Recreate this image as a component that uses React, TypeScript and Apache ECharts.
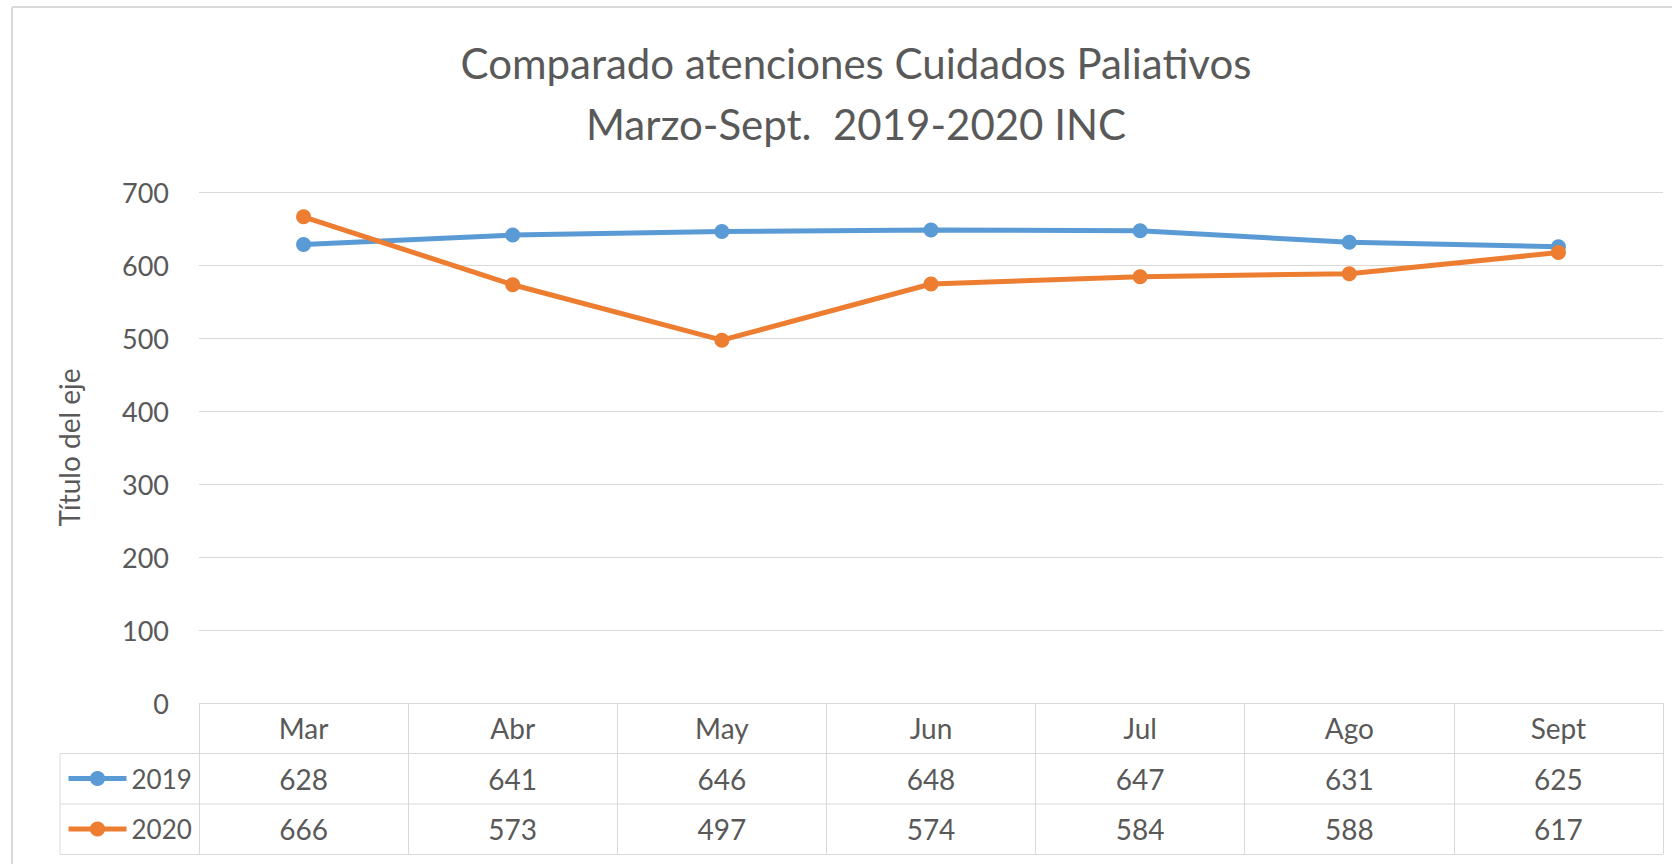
import React, { useEffect, useRef } from "react";
import * as echarts from "echarts";

const months = ["Mar", "Abr", "May", "Jun", "Jul", "Ago", "Sept"];
const s2019 = [628, 641, 646, 648, 647, 631, 625];
const s2020 = [666, 573, 497, 574, 584, 588, 617];
const seriesNames = ["2019", "2020"];
const yTicks = { min: 0, max: 700, interval: 100 };
const titleText = "Comparado atenciones Cuidados Paliativos\nMarzo-Sept.  2019-2020 INC";
const yAxisTitle = "Título del eje";

const FONT = "Lato";
const TXT = "#595959";
const GRIDC = "#d9d9d9";
const BLUE = "#5b9bd5";
const ORANGE = "#ed7d31";

export default function App() {
  const ref = useRef<HTMLDivElement>(null);
  useEffect(() => {
    if (!ref.current) return;
    const chart = echarts.init(ref.current, undefined, { renderer: "svg" });
    const gl = 199, gr = 1663, gTop = 192, gBottom = 703;
    const rowH = 50.5;
    const tableLeft = 60;
    const lineStyle = { stroke: GRIDC, lineWidth: 1 };
    const tableFont = 28;
    const legendFont = 26;
    chart.setOption({
      animation: false,
      backgroundColor: "#fff",
      textStyle: { fontFamily: FONT },
      title: {
        text: titleText,
        left: 851,
        top: 27,
        textAlign: "center",
        textStyle: { fontFamily: FONT, fontSize: 42, fontWeight: "normal", color: TXT, lineHeight: 61 },
      },
      grid: { left: gl, right: 1672 - gr, top: gTop, bottom: 864 - gBottom },
      legend: [
        {
          data: [seriesNames[0]], left: 66, top: 765.5, padding: 0, itemWidth: 58, itemHeight: 19,
          lineStyle: { width: 5 },
          textStyle: { fontFamily: FONT, fontSize: legendFont, color: TXT }, selectedMode: false,
        },
        {
          data: [seriesNames[1]], left: 66, top: 816, padding: 0, itemWidth: 58, itemHeight: 19,
          lineStyle: { width: 5 },
          textStyle: { fontFamily: FONT, fontSize: legendFont, color: TXT }, selectedMode: false,
        },
      ],
      xAxis: [
        {
          type: "category", data: months, boundaryGap: true,
          axisLine: { show: true, lineStyle: { color: GRIDC, width: 1 } },
          axisTick: { show: true, length: 151, interval: 0, lineStyle: { color: GRIDC, width: 1 } },
          axisLabel: { fontFamily: FONT, fontSize: tableFont, color: TXT, margin: 11, interval: 0 },
          splitLine: { show: false },
        },
        {
          type: "category", data: s2019.map(String), position: "bottom", offset: rowH, boundaryGap: true,
          axisLine: { show: false }, axisTick: { show: false },
          axisLabel: { fontFamily: FONT, fontSize: tableFont, color: TXT, margin: 11, interval: 0 },
        },
        {
          type: "category", data: s2020.map(String), position: "bottom", offset: rowH * 2, boundaryGap: true,
          axisLine: { show: false }, axisTick: { show: false },
          axisLabel: { fontFamily: FONT, fontSize: tableFont, color: TXT, margin: 11, interval: 0 },
        },
      ],
      yAxis: {
        type: "value", min: yTicks.min, max: yTicks.max, interval: yTicks.interval,
        name: yAxisTitle, nameLocation: "middle", nameGap: 116,
        nameTextStyle: { fontFamily: FONT, fontSize: 28, color: TXT },
        axisLine: { show: false }, axisTick: { show: false },
        axisLabel: { fontFamily: FONT, fontSize: 27, color: TXT, margin: 30 },
        splitLine: { lineStyle: { color: GRIDC, width: 1 } },
      },
      series: [
        {
          name: seriesNames[0], type: "line", data: s2019, xAxisIndex: 0,
          symbol: "circle", symbolSize: 15, itemStyle: { color: BLUE },
          lineStyle: { color: BLUE, width: 5 },
        },
        {
          name: seriesNames[1], type: "line", data: s2020, xAxisIndex: 0,
          symbol: "circle", symbolSize: 15, itemStyle: { color: ORANGE },
          lineStyle: { color: ORANGE, width: 5 },
        },
      ],
      graphic: [
        { type: "line", shape: { x1: 12, y1: 7, x2: 12, y2: 864 }, style: { stroke: GRIDC, lineWidth: 2 } },
        { type: "line", shape: { x1: 12, y1: 7, x2: 1672, y2: 7 }, style: { stroke: GRIDC, lineWidth: 2 } },
        { type: "line", shape: { x1: tableLeft, y1: gBottom + rowH, x2: gr, y2: gBottom + rowH }, style: lineStyle },
        { type: "line", shape: { x1: tableLeft, y1: gBottom + rowH * 2, x2: gr, y2: gBottom + rowH * 2 }, style: lineStyle },
        { type: "line", shape: { x1: tableLeft, y1: gBottom + rowH * 3, x2: gr, y2: gBottom + rowH * 3 }, style: lineStyle },
        { type: "line", shape: { x1: tableLeft, y1: gBottom + rowH, x2: tableLeft, y2: gBottom + rowH * 3 }, style: lineStyle },
      ],
    });
    return () => chart.dispose();
  }, []);
  return (
    <div
      ref={ref}
      style={{ position: "fixed", left: 0, top: 0, width: 1672, height: 864, background: "#fff" }}
    />
  );
}
